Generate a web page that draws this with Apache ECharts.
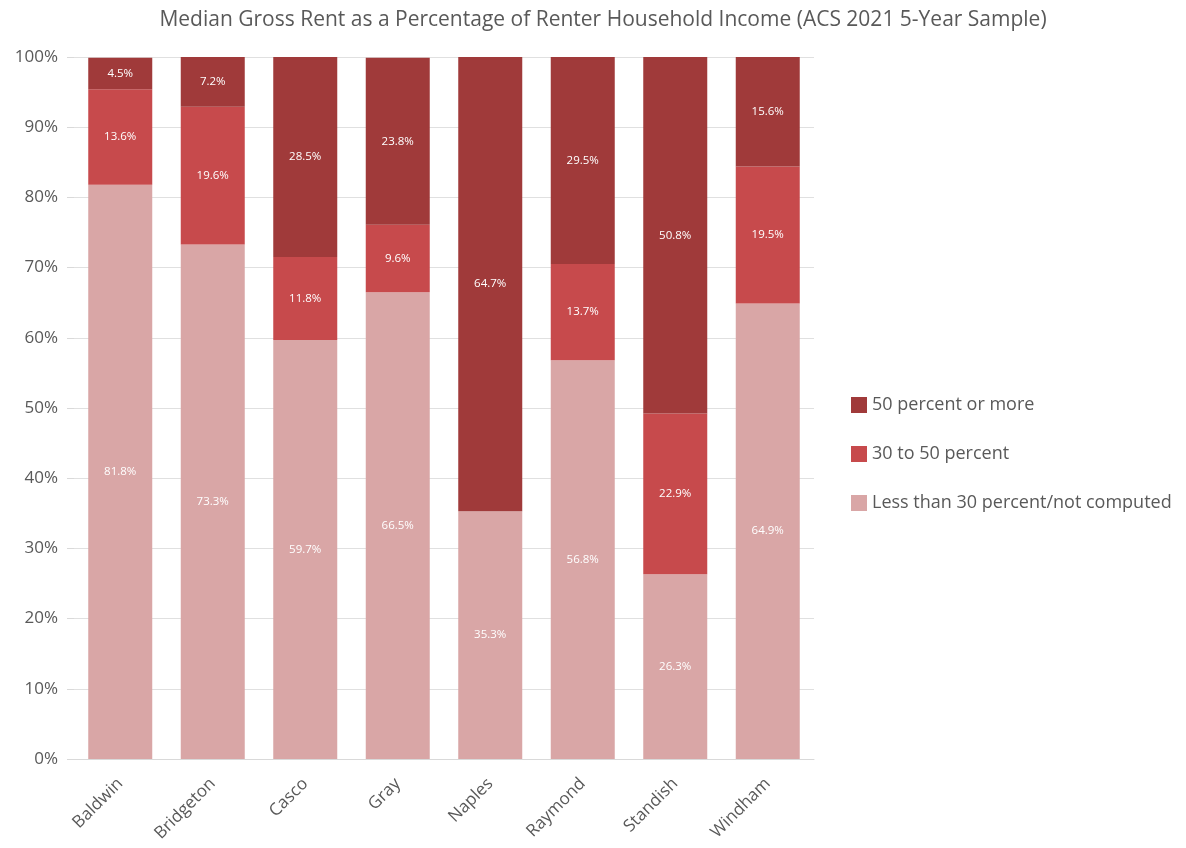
<!DOCTYPE html>
<html><head><meta charset="utf-8">
<script src="https://cdn.jsdelivr.net/npm/echarts@6/dist/echarts.min.js"></script>
<style>html,body{margin:0;padding:0;background:#fff}#c{width:1186px;height:848px}</style>
</head><body><div id="c"></div>
<script>
const categories = ["Baldwin","Bridgeton","Casco","Gray","Naples","Raymond","Standish","Windham"];
const lessThan30 = [81.8, 73.3, 59.7, 66.5, 35.3, 56.8, 26.3, 64.9];
const from30to50 = [13.6, 19.6, 11.8, 9.6, 0, 13.7, 22.9, 19.5];
const over50 = [4.5, 7.2, 28.5, 23.8, 64.7, 29.5, 50.8, 15.6];
const seriesNames = ["50 percent or more", "30 to 50 percent", "Less than 30 percent/not computed"];

const font = "Open Sans";
const chart = echarts.init(document.getElementById('c'));
const lbl = {show:true, position:'inside', color:'#fff', fontSize:11.5, fontFamily:font,
  formatter: p => p.value > 0 ? p.value.toFixed(1) + '%' : ''};
chart.setOption({
  animation:false,
  title:{text:'Median Gross Rent as a Percentage of Renter Household Income (ACS 2021 5-Year Sample)',
    left:598, textAlign:'center', top:5, textStyle:{fontFamily:font, fontSize:21, fontWeight:'normal', color:'#595959'}},
  legend:{orient:'vertical', left:846, top:391, itemGap:31, itemWidth:16, itemHeight:16, icon:'rect',
    data:seriesNames, textStyle:{fontFamily:font, fontSize:18, color:'#595959'}},
  grid:{left:74, right:372, top:57, bottom:89},
  xAxis:{type:'category', data:categories,
    axisLine:{lineStyle:{color:'#d9d9d9'}}, axisTick:{show:false},
    axisLabel:{rotate:45, color:'#595959', fontSize:17, fontFamily:font, margin:22}},
  yAxis:{type:'value', min:0, max:100, interval:10,
    axisLine:{show:false},
    axisTick:{show:true, length:7, lineStyle:{color:'#d9d9d9'}},
    axisLabel:{formatter:'{value}%', color:'#595959', fontSize:17, fontFamily:font, margin:16},
    splitLine:{lineStyle:{color:'#e0e0e0'}}},
  series:[
    {name:seriesNames[2], type:'bar', stack:'a', data:lessThan30, barWidth:64, itemStyle:{color:'#d9a6a6'}, label:lbl},
    {name:seriesNames[1], type:'bar', stack:'a', data:from30to50, itemStyle:{color:'#c74a4c'}, label:lbl},
    {name:seriesNames[0], type:'bar', stack:'a', data:over50, itemStyle:{color:'#a03a3a'}, label:lbl}
  ]
});
</script></body></html>
